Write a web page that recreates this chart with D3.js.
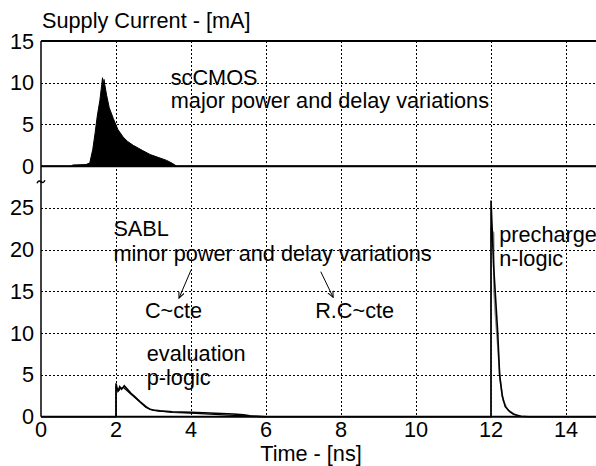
<!DOCTYPE html>
<html>
<head>
<meta charset="utf-8">
<script src="https://cdn.jsdelivr.net/npm/d3@7"></script>
<style>
  html, body { margin: 0; padding: 0; background: #fff; }
  svg { display: block; }
  text { font-family: "Liberation Sans", Arial, sans-serif; fill: #000; }
</style>
</head>
<body>
<svg id="chart" width="596" height="466"></svg>
<script>
// ---------------- data ----------------
const xTicks = [0, 2, 4, 6, 8, 10, 12, 14];
const lowerTicks = [0, 5, 10, 15, 20, 25];      // SABL panel
const upperTicks = [0, 5, 10, 15];              // scCMOS panel (stacked above)
const upperOffset = 30;                          // scCMOS zero sits at 30 on the shared axis

// scCMOS: envelope of many overlapping traces
const sccmosTime = [0, 0.8, 0.85, 1.2, 1.3, 1.38, 1.44, 1.5, 1.57, 1.62, 1.64, 1.66, 1.68, 1.7, 1.75, 1.82, 1.93, 2.05, 2.19, 2.3, 2.46, 2.7, 2.91, 3.1, 3.35, 3.5, 3.62, 15];
const sccmosMax  = [0, 0, 0.15, 0.2, 0.4, 2.0, 3.9, 6.0, 7.9, 9.8, 10.6, 9.6, 10.4, 9.8, 8.5, 7.0, 5.7, 4.4, 3.5, 3.0, 2.5, 1.9, 1.4, 1.1, 0.7, 0.35, 0, 0];
const sccmosMin  = [0, 0, 0, 0, 0, 0, 0, 0, 0, 0, 0, 0, 0, 0, 0, 0, 0, 0, 0, 0, 0, 0, 0, 0, 0, 0, 0, 0];

// SABL: main trace
const sablTime  = [0, 2.0, 2.0, 2.03, 2.07, 2.1, 2.15, 2.22, 2.3, 2.4, 2.5, 2.64, 2.8, 2.9, 3.0, 3.17, 3.5, 4.0, 4.5, 5.13, 5.4, 5.57, 5.8, 6.0, 12.0, 12.0, 12.04, 12.07, 12.11, 12.18, 12.23, 12.3, 12.38, 12.5, 12.6, 12.8, 13.0, 15];
const sablValue = [0, 0, 4.0, 3.4, 3.2, 3.6, 3.3, 3.7, 3.3, 2.8, 2.4, 1.8, 1.2, 0.9, 0.8, 0.7, 0.6, 0.52, 0.45, 0.33, 0.22, 0.1, 0.04, 0, 0, 25.9, 21.5, 18.0, 15.1, 10.0, 5.0, 2.5, 1.2, 0.6, 0.3, 0.05, 0, 0];
// SABL: second trace (slight variations)
const sabl2Time  = [2.0, 2.0, 2.05, 2.12, 2.2, 2.35, 2.6, 2.8, 3.0, 3.5, 4.0, 4.5, 5.0, 5.3, 5.6, 6.0];
const sabl2Value = [0, 3.7, 3.0, 3.4, 3.5, 2.9, 1.9, 1.1, 0.75, 0.5, 0.42, 0.3, 0.2, 0.12, 0.03, 0];
// precharge variant (grey trace)
const preTime  = [12.0, 12.0, 12.07, 12.08, 12.12, 12.18, 12.24, 12.32, 12.45, 12.7];
const preValue = [0, 22.5, 22.0, 15.0, 12.0, 8.5, 4.5, 2.0, 0.8, 0.1];

// annotations [text, time, value]
const notes = [
  ["scCMOS", 3.46, 39.73],
  ["major power and delay variations", 3.46, 36.97],
  ["SABL", 1.93, 21.68],
  ["minor power and delay variations", 1.93, 18.65],
  ["C~cte", 2.77, 11.8],
  ["R.C~cte", 7.31, 11.8],
  ["evaluation", 2.82, 6.66],
  ["p-logic", 2.82, 3.79],
  ["precharge", 12.22, 20.96],
  ["n-logic", 12.22, 18.09]
];
const arrows = [
  [4.0, 17.56, 3.68, 14.2],
  [7.46, 17.37, 7.79, 14.3]
];

// ---------------- layout ----------------
const svg = d3.select("#chart");
const x = d3.scaleLinear().domain([0, 15]).range([41, 603.5]);
const y = d3.scaleLinear().domain([0, 45]).range([416.7, 41]);
const FS = 21.7;

// gridlines
const grid = svg.append("g").attr("stroke", "#000").attr("stroke-width", 1).attr("stroke-dasharray", "2,2");
grid.selectAll("line.v").data(xTicks.filter(d => d > 0)).join("line")
  .attr("x1", d => Math.round(x(d)) + 0.5).attr("x2", d => Math.round(x(d)) + 0.5)
  .attr("y1", y(45)).attr("y2", y(0));
const hGrid = lowerTicks.filter(d => d > 0).concat(upperTicks.filter(d => d > 0 && d < 15).map(d => d + upperOffset));
grid.selectAll("line.h").data(hGrid).join("line")
  .attr("x1", x(0)).attr("x2", 596)
  .attr("y1", d => Math.round(y(d)) + 0.5).attr("y2", d => Math.round(y(d)) + 0.5);

// scCMOS filled envelope
const sc = sccmosTime.map((t, i) => ({t, hi: sccmosMax[i] + upperOffset, lo: sccmosMin[i] + upperOffset}));
svg.append("path").datum(sc)
  .attr("d", d3.area().x(d => x(d.t)).y0(d => y(d.lo)).y1(d => y(d.hi)))
  .attr("fill", "#000").attr("stroke", "#000").attr("stroke-width", 1);
// scCMOS zero line
svg.append("line").attr("x1", x(0)).attr("x2", 596)
  .attr("y1", y(upperOffset)).attr("y2", y(upperOffset))
  .attr("stroke", "#000").attr("stroke-width", 2);

// SABL traces
const line = d3.line().x(d => x(d[0])).y(d => y(d[1]));
svg.append("path").datum(preTime.map((t, i) => [t, preValue[i]]))
  .attr("d", line).attr("fill", "none").attr("stroke", "#888").attr("stroke-width", 1.6);
svg.append("path").datum(sabl2Time.map((t, i) => [t, sabl2Value[i]]))
  .attr("d", line).attr("fill", "none").attr("stroke", "#000").attr("stroke-width", 1.2);
svg.append("path").datum(sablTime.map((t, i) => [t, sablValue[i]]))
  .attr("d", line).attr("fill", "none").attr("stroke", "#000").attr("stroke-width", 1.6);

// axes frame
svg.append("line").attr("x1", x(0)).attr("x2", 596).attr("y1", y(45)).attr("y2", y(45))
  .attr("stroke", "#000").attr("stroke-width", 2);
svg.append("line").attr("x1", x(0)).attr("x2", 596).attr("y1", y(0)).attr("y2", y(0))
  .attr("stroke", "#000").attr("stroke-width", 2);
svg.append("line").attr("x1", x(0)).attr("x2", x(0)).attr("y1", y(45)).attr("y2", y(0))
  .attr("stroke", "#000").attr("stroke-width", 1.5);

// axis break marker
const by = y(28.2);
svg.append("path")
  .attr("d", `M${x(0) - 4},${by + 2} C${x(0) - 1},${by - 4} ${x(0) + 1},${by + 5} ${x(0) + 4},${by - 1}`)
  .attr("fill", "none").attr("stroke", "#000").attr("stroke-width", 1.5);

// tick labels
const yl = svg.append("g").attr("font-size", FS).attr("text-anchor", "end");
yl.selectAll("text.lo").data(lowerTicks).join("text")
  .attr("x", 34).attr("y", d => y(d) + 7.5).text(d => d);
yl.selectAll("text.up").data(upperTicks).join("text")
  .attr("x", 34).attr("y", d => y(d + upperOffset) + 7.5).text(d => d);
svg.append("g").attr("font-size", FS).attr("text-anchor", "middle")
  .selectAll("text").data(xTicks).join("text")
  .attr("x", d => x(d)).attr("y", 437).text(d => d);

// titles
svg.append("text").attr("x", 42).attr("y", 28).attr("font-size", FS).text("Supply Current - [mA]");
svg.append("text").attr("x", 311).attr("y", 461.2).attr("font-size", FS).attr("text-anchor", "middle").text("Time - [ns]");

// annotations
svg.append("g").attr("font-size", FS).selectAll("text").data(notes).join("text")
  .attr("x", d => x(d[1])).attr("y", d => y(d[2])).text(d => d[0]);

// arrows
svg.append("defs").append("marker").attr("id", "ah").attr("viewBox", "0 0 10 10")
  .attr("refX", 9).attr("refY", 5).attr("markerWidth", 7).attr("markerHeight", 7).attr("orient", "auto")
  .append("path").attr("d", "M0,1 L9,5 L0,9").attr("fill", "none").attr("stroke", "#000").attr("stroke-width", 1.5);
svg.append("g").selectAll("line").data(arrows).join("line")
  .attr("x1", d => x(d[0])).attr("y1", d => y(d[1])).attr("x2", d => x(d[2])).attr("y2", d => y(d[3]))
  .attr("stroke", "#000").attr("stroke-width", 1).attr("marker-end", "url(#ah)");
</script>
</body>
</html>
